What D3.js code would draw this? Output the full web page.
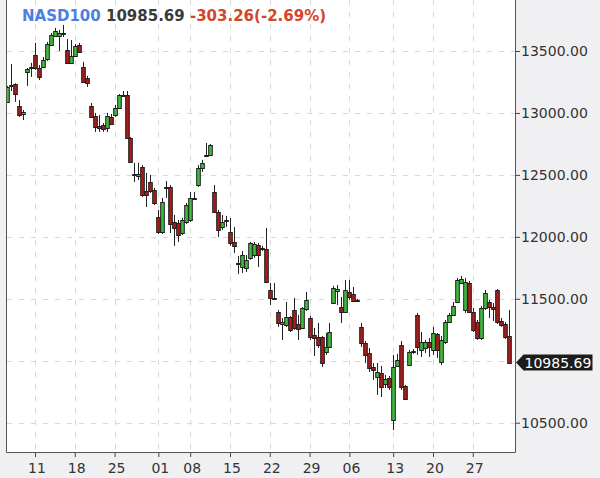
<!DOCTYPE html>
<html>
<head>
<meta charset="utf-8">
<script src="https://cdn.jsdelivr.net/npm/d3@7"></script>
<style>
  html, body { margin: 0; padding: 0; background: #f0f0f3; }
  svg { display: block; font-family: "DejaVu Sans", sans-serif; }
</style>
</head>
<body>
<svg id="chart"></svg>
<script>
'use strict'

// half-day candles (index = candle number)
const open = [
  13089, 13226, 13234, 13056, 12992, 13331, 13363, 13468, 13363, 13371,
  13436, 13549, 13621, 13621, 13646, 13508, 13404, 13460, 13549, 13371,
  13282, 13056, 12976, 12895, 12903, 12879, 12968, 12984, 13040, 13145,
  13145, 12798, 12508, 12492, 12564, 12371, 12443, 12379, 12161, 12040,
  12403, 12403, 12120, 12112, 12031, 12120, 12136, 12314, 12419, 12556,
  12661, 12661, 12362, 12201, 12080, 12136, 12040, 11959, 11789, 11757,
  11749, 11830, 11854, 11935, 11910, 11902, 11571, 11507, 11394, 11297,
  11289, 11353, 11410, 11297, 11265, 11418, 11345, 11208, 11192, 11192,
  11071, 11111, 11466, 11563, 11434, 11394, 11555, 11539, 11487, 11273,
  11144, 11063, 10950, 10869, 10901, 10812, 10861, 10522, 10958, 11128,
  10797, 10966, 11071, 11370, 11087, 11103, 11152, 11087, 11216, 10990,
  11152, 11313, 11370, 11474, 11628, 11410, 11628, 11394, 11313, 11184,
  11426, 11474, 11434, 11571, 11321, 11297, 11200
]
const high = [
  13218, 13395, 13240, 13105, 13024, 13363, 13404, 13565, 13387, 13452,
  13573, 13646, 13686, 13670, 13710, 13597, 13589, 13557, 13565, 13412,
  13299, 13081, 13000, 12984, 12919, 13000, 12992, 13065, 13153, 13177,
  13177, 12806, 12597, 12597, 12580, 12516, 12500, 12395, 12217, 12314,
  12451, 12419, 12177, 12136, 12153, 12274, 12362, 12362, 12580, 12621,
  12758, 12750, 12419, 12217, 12177, 12169, 12153, 12080, 11846, 11886,
  11854, 11959, 11959, 11951, 11927, 12072, 11628, 11628, 11410, 11345,
  11474, 11362, 11507, 11370, 11434, 11555, 11362, 11265, 11305, 11200,
  11224, 11305, 11604, 11612, 11515, 11652, 11652, 11596, 11499, 11305,
  11160, 11103, 10982, 10982, 10958, 10885, 10877, 11047, 11055, 11160,
  10805, 11087, 11095, 11386, 11232, 11168, 11184, 11273, 11224, 11200,
  11329, 11386, 11474, 11668, 11684, 11668, 11644, 11426, 11329, 11442,
  11571, 11491, 11466, 11579, 11345, 11313, 11410
]
const low = [
  13081, 13177, 13089, 12968, 12943, 13218, 13291, 13347, 13266, 13363,
  13420, 13541, 13613, 13500, 13613, 13395, 13395, 13452, 13484, 13242,
  13210, 12960, 12847, 12847, 12847, 12847, 12903, 12968, 13032, 13137,
  12790, 12597, 12443, 12459, 12322, 12241, 12354, 12257, 12023, 12023,
  12314, 12031, 11927, 11959, 12015, 12104, 12120, 12306, 12403, 12524,
  12645, 12653, 12193, 11999, 12056, 12080, 11927, 11870, 11701, 11709,
  11717, 11814, 11830, 11757, 11886, 11628, 11450, 11491, 11273, 11168,
  11273, 11232, 11249, 11168, 11257, 11402, 11168, 11039, 11103, 10950,
  11047, 11103, 11458, 11450, 11305, 11394, 11491, 11474, 11474, 11111,
  10982, 10909, 10845, 10724, 10708, 10780, 10764, 10441, 10950, 10764,
  10684, 10958, 11055, 11047, 11031, 11063, 11031, 11047, 11023, 10966,
  11136, 11305, 11362, 11474, 11620, 11386, 11386, 11232, 11168, 11168,
  11410, 11345, 11321, 11297, 11273, 11176, 10982
]
const close = [
  13210, 13218, 13153, 12984, 13008, 13355, 13371, 13363, 13291, 13428,
  13557, 13629, 13662, 13646, 13642, 13404, 13460, 13541, 13492, 13250,
  13242, 12968, 12887, 12880, 12871, 12976, 12911, 13040, 13145, 13141,
  12798, 12605, 12504, 12508, 12338, 12338, 12371, 12274, 12040, 12282,
  12399, 12104, 12072, 12015, 12136, 12257, 12314, 12310, 12556, 12597,
  12657, 12742, 12201, 12056, 12120, 12132, 11951, 11927, 11785, 11854,
  11814, 11951, 11943, 11854, 11902, 11636, 11507, 11503, 11305, 11313,
  11353, 11249, 11265, 11257, 11426, 11491, 11192, 11184, 11128, 10982,
  11111, 11232, 11588, 11579, 11394, 11571, 11515, 11483, 11483, 11144,
  11047, 10942, 10925, 10909, 10789, 10853, 10789, 10950, 11006, 10789,
  10692, 11071, 11079, 11111, 11152, 11152, 11111, 11224, 11087, 11168,
  11313, 11370, 11442, 11652, 11660, 11636, 11394, 11249, 11184, 11426,
  11547, 11434, 11418, 11313, 11289, 11192, 10985.69
]

// x axis: candle index of each labelled day, and its label
const tickIdx = [7, 17, 27, 38, 46, 56, 66, 76, 86, 97, 107, 117]
const tickLabels = ["11", "18", "25", "01", "08", "15", "22", "29", "06", "13", "20", "27"]

// price levels
const gridPrices = [10500, 11000, 11500, 12000, 12500, 13000, 13500]
const labelPrices = [10500, 11500, 12000, 12500, 13000, 13500]

// header
const symbol = "NASD100"
const lastPrice = 10985.69
const change = -303.26
const changePct = -2.69

const W = 600, H = 478
const plot = {left: 7, right: 515, top: 0, bottom: 452}

const x = d3.scaleLinear().domain([0, open.length - 1]).range([7.1, 508.6])
const y = d3.scaleLinear().domain([10263.5, 13911.6]).range([plot.bottom, plot.top])

const svg = d3.select('#chart')
  .attr("width", W)
  .attr("height", H)

// background + white plot area
svg.append("rect").attr("width", W).attr("height", H).attr("fill", "#f0f0f3")
svg.append("rect")
  .attr("x", plot.left).attr("y", plot.top)
  .attr("width", plot.right - plot.left).attr("height", plot.bottom - plot.top)
  .attr("fill", "#ffffff")

svg.append("clipPath").attr("id", "plotClip")
  .append("rect")
  .attr("x", plot.left).attr("y", plot.top)
  .attr("width", plot.right - plot.left).attr("height", plot.bottom - plot.top)

// dashed grid
const grid = svg.append("g")
  .attr("stroke", "#d8d8d8")
  .attr("stroke-dasharray", "5,7")
  .attr("stroke-width", 1)
grid.selectAll(".hgrid").data(gridPrices).enter().append("line")
  .attr("x1", plot.left).attr("x2", plot.right)
  .attr("y1", d => Math.round(y(d)) + 0.5)
  .attr("y2", d => Math.round(y(d)) + 0.5)
grid.selectAll(".vgrid").data(tickIdx).enter().append("line")
  .attr("x1", d => Math.round(x(d)) + 0.5)
  .attr("x2", d => Math.round(x(d)) + 0.5)
  .attr("y1", plot.top).attr("y2", plot.bottom)

// candles
const candles = svg.append("g").attr("clip-path", "url(#plotClip)")
const idx = d3.range(open.length)

candles.selectAll(".wick").data(idx).enter().append("line")
  .attr("x1", i => Math.round(x(i)) + 0.5)
  .attr("x2", i => Math.round(x(i)) + 0.5)
  .attr("y1", i => y(high[i]))
  .attr("y2", i => y(low[i]))
  .attr("stroke", "#222")
  .attr("stroke-width", 1)

candles.selectAll(".body").data(idx).enter().append("rect")
  .attr("x", i => Math.round(x(i)) - 1.3)
  .attr("width", 3.6)
  .attr("y", i => Math.round(y(Math.max(open[i], close[i]))) + 0.5)
  .attr("height", i => {
    const top = Math.round(y(Math.max(open[i], close[i])))
    const bot = Math.round(y(Math.min(open[i], close[i])))
    return Math.max(1, bot - top)
  })
  .attr("fill", i => close[i] >= open[i] ? "#3dbd3d" : "#a81c1c")
  .attr("stroke", "#1e1e1e")
  .attr("stroke-width", 1)

// bottom axis
const xAxis = svg.append("g")
  .attr("transform", "translate(0," + plot.bottom + ")")
  .call(d3.axisBottom(x).tickValues(tickIdx).tickFormat((d, i) => tickLabels[i]).tickSize(5).tickPadding(6))
xAxis.select(".domain").remove()
xAxis.selectAll(".tick text").attr("dx", "1.5")

// right price axis
const yAxis = svg.append("g")
  .attr("transform", "translate(" + plot.right + ",0)")
  .call(d3.axisRight(y).tickValues(labelPrices).tickFormat(d3.format(".2f")).tickSize(5).tickPadding(1))
yAxis.select(".domain").remove()

svg.selectAll(".tick line").attr("stroke", "#444")
svg.selectAll(".tick text")
  .attr("fill", "#333")
  .style("font-family", "'DejaVu Sans', sans-serif")
  .style("font-size", "14px")

// frame: left, bottom, right
svg.append("path")
  .attr("d", "M" + (plot.left - 0.5) + "," + plot.top + "V" + (plot.bottom + 0.5) +
             "H" + (plot.right + 0.5) + "V" + plot.top)
  .attr("fill", "none")
  .attr("stroke", "#555")
  .attr("stroke-width", 1)

// header text
const title = svg.append("text")
  .attr("x", 22).attr("y", 21)
  .style("font-size", "15px")
  .style("font-weight", "bold")
title.append("tspan").attr("fill", "#4a80e0").text(symbol + " ")
title.append("tspan").attr("fill", "#3a3a3a").text(lastPrice.toFixed(2) + " ")
title.append("tspan").attr("fill", "#d4452b")
  .text(change.toFixed(2) + "(" + changePct.toFixed(2) + "%)")

// last price tag on the right axis
const tag = svg.append("g")
  .attr("transform", "translate(" + plot.right + "," + y(close[close.length - 1]) + ")")
tag.append("path")
  .attr("d", "M1,0 L8.5,-8 H77.5 V8 H8.5 Z")
  .attr("fill", "#1c1c1c")
tag.append("text")
  .attr("x", 9.5).attr("dy", "0.36em")
  .attr("fill", "#ffffff")
  .style("font-size", "14px")
  .text(close[close.length - 1].toFixed(2))
</script>
</body>
</html>
